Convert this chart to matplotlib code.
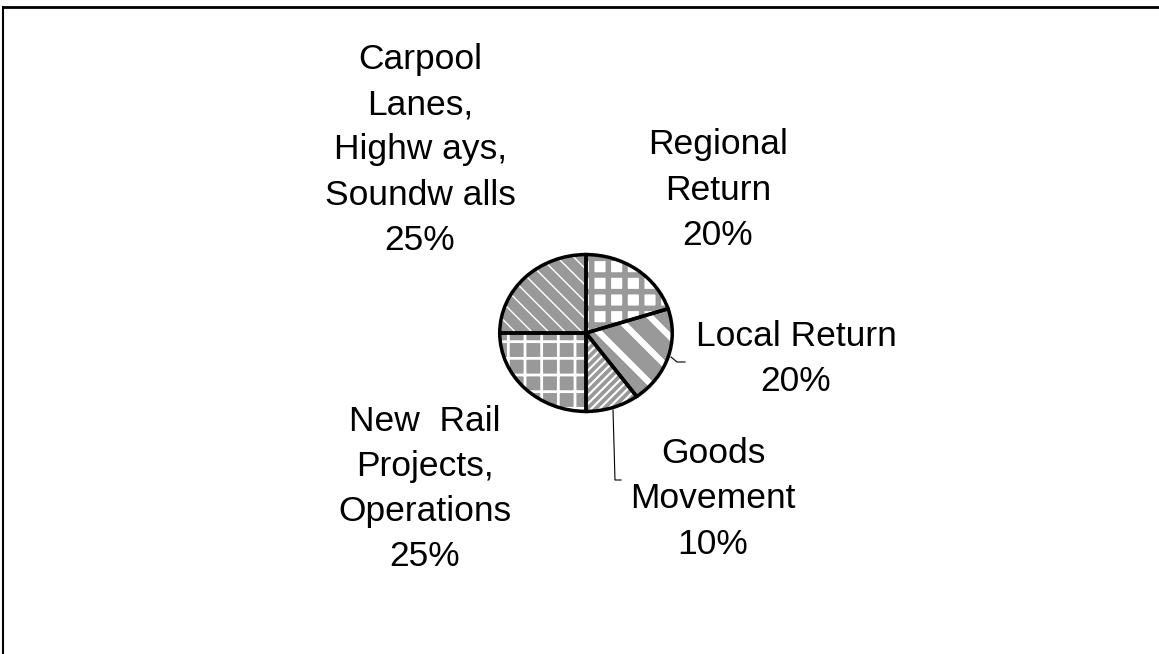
import matplotlib.pyplot as plt

plt.rc('font', family=['Liberation Sans', 'DejaVu Sans'], size=25.5)

labels = ['Regional\nReturn\n20%', 'Local Return\n20%', 'Goods\nMovement\n10%',
          'New  Rail\nProjects,\nOperations\n25%', 'Carpool\nLanes,\nHighw ays,\nSoundw alls\n25%']
shares = [20, 20, 10, 25, 25]

gray = '#999999'
faces = ['white', gray, gray, gray, gray]
hatch_colors = [gray, 'white', 'white', 'white', 'white']
hatches = ['+', '\\', '////', '+', '\\\\']
hatch_widths = [4.0, 4.5, 1.5, 2.0, 1.0]

W, H = 1159, 654
fig = plt.figure(figsize=(W / 100, H / 100), dpi=100)

# background axes in pixel coordinates for frame, labels, leaders
ax0 = fig.add_axes([0, 0, 1, 1])
ax0.set_xlim(0, W)
ax0.set_ylim(H, 0)
ax0.axis('off')
ax0.plot([3, W], [7, 7], color='black', lw=2)
ax0.plot([3, 3], [7, H], color='black', lw=1.5)

# pie axes (slightly elliptical like the original)
cx, cy, rx, ry = 586, 333, 88, 80
ax = fig.add_axes([(cx - rx) / W, (H - cy - ry) / H, 2 * rx / W, 2 * ry / H])

wedges, _ = ax.pie(shares, startangle=90, counterclock=False, radius=1,
                   wedgeprops=dict(linewidth=0))
for w, face, hc, h, hw in zip(wedges, faces, hatch_colors, hatches, hatch_widths):
    w.set_facecolor(face)
    w.set_edgecolor(hc)
    w.set_hatch(h)
    if hasattr(w, 'set_hatch_linewidth'):
        w.set_hatch_linewidth(hw)
    else:
        w._hatch_linewidth = hw

# outlines on top
ax.pie(shares, startangle=90, counterclock=False, radius=1,
       wedgeprops=dict(facecolor='none', edgecolor='black', linewidth=2.5))
ax.set_aspect('auto')
ax.set_xlim(-1.02, 1.02)
ax.set_ylim(-1.02, 1.02)
ax.axis('off')

# data labels
pos = [(718, 190), (796, 359), (713, 499), (425, 489), (420, 150)]
for txt, (x, y) in zip(labels, pos):
    ax0.text(x, y, txt, ha='center', va='center', multialignment='center',
             linespacing=1.47)

# leader lines
ax0.plot([671, 677, 685], [357, 362, 362], color='black', lw=0.8)
ax0.plot([613, 615, 621], [410, 480, 480], color='black', lw=0.8)

fig.savefig('out.png', dpi=100)
